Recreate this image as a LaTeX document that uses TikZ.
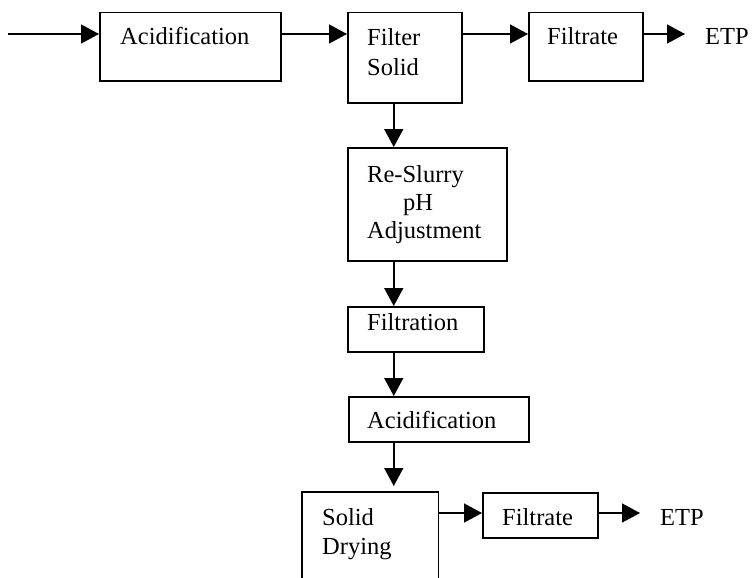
\documentclass[tikz,border=0pt]{standalone}
\usepackage{fontspec}
\setmainfont{Liberation Serif}
\usetikzlibrary{arrows.meta}
\begin{document}
\begin{tikzpicture}[x=1pt,y=-1pt,
  box/.style={draw, line width=1.5pt, inner sep=0pt, anchor=north west},
  openbox/.style={inner sep=0pt, anchor=north west},
  txt/.style={inner sep=0pt, anchor=base west, font=\fontsize{24.5}{28}\selectfont},
  flow/.style={line width=1.5pt, -{Triangle[length=18pt,width=19pt]}}]
\useasboundingbox (0,0) rectangle (752,578);

% process boxes
\node[box, minimum width=181pt, minimum height=68pt] (acid1) at (99,12) {};
\node[box, minimum width=114pt, minimum height=90pt] (filter) at (347,12) {};
\node[box, minimum width=114pt, minimum height=68pt] (filt1) at (528,12) {};
\node[box, minimum width=159pt, minimum height=113pt] (slurry) at (347,147) {};
\node[box, minimum width=136pt, minimum height=45pt] (filtration) at (347,306) {};
\node[box, minimum width=180pt, minimum height=45pt] (acid2) at (348,396) {};
\node[openbox, minimum width=136pt, minimum height=86pt] (drying) at (302,492) {};
\node[box, minimum width=115pt, minimum height=45pt] (filt2) at (482,492) {};

% drying box runs off the bottom edge
\draw[line width=1.5pt] (drying.south west) -- (drying.north west)
  -- (drying.north east) -- (drying.south east);

% labels
\node[txt] (tacid1) at (120,45) {Acidification};
\node[txt] (tfilter) at (367,46) {Filter};
\node[txt] (tsolid) at (367,75) {Solid};
\node[txt] (tfilt1) at (547,45) {Filtrate};
\node[txt] (etp1) at (705,45) {ETP};
\node[txt] (tre) at (367,182) {Re-Slurry};
\node[txt] (tph) at (403,210) {pH};
\node[txt] (tadj) at (367,238) {Adjustment};
\node[txt] (tfiltration) at (367,330) {Filtration};
\node[txt] (tacid2) at (367,428) {Acidification};
\node[txt] (tsolid2) at (322,525) {Solid};
\node[txt] (tdry) at (322,554) {Drying};
\node[txt] (tfilt2) at (502,525) {Filtrate};
\node[txt] (etp2) at (660,525) {ETP};

% connectors
\coordinate (feed) at (8,34);
\draw[flow] (feed) -- ([yshift=-22pt]acid1.north west);
\draw[flow] ([yshift=-22pt]acid1.north east) -- ([yshift=-22pt]filter.north west);
\draw[flow] ([yshift=-22pt]filter.north east) -- ([yshift=-22pt]filt1.north west);
\draw[flow] ([yshift=-22pt]filt1.north east) -- ([xshift=-20pt,yshift=11pt]etp1.base west);
\draw[flow] (filter.south) ++(-11pt,0) coordinate (c1) -- (c1 |- slurry.north);
\draw[flow] (c1 |- slurry.south) -- (c1 |- filtration.north);
\draw[flow] (c1 |- filtration.south) -- (c1 |- acid2.north);
\draw[flow, shorten >=6pt] (c1 |- acid2.south) -- (c1 |- drying.north);
\draw[flow] ([yshift=-21pt]drying.north east) -- ([yshift=-21pt]filt2.north west);
\draw[flow] ([yshift=-21pt]filt2.north east) -- ([xshift=-20pt,yshift=12pt]etp2.base west);
\end{tikzpicture}
\end{document}
